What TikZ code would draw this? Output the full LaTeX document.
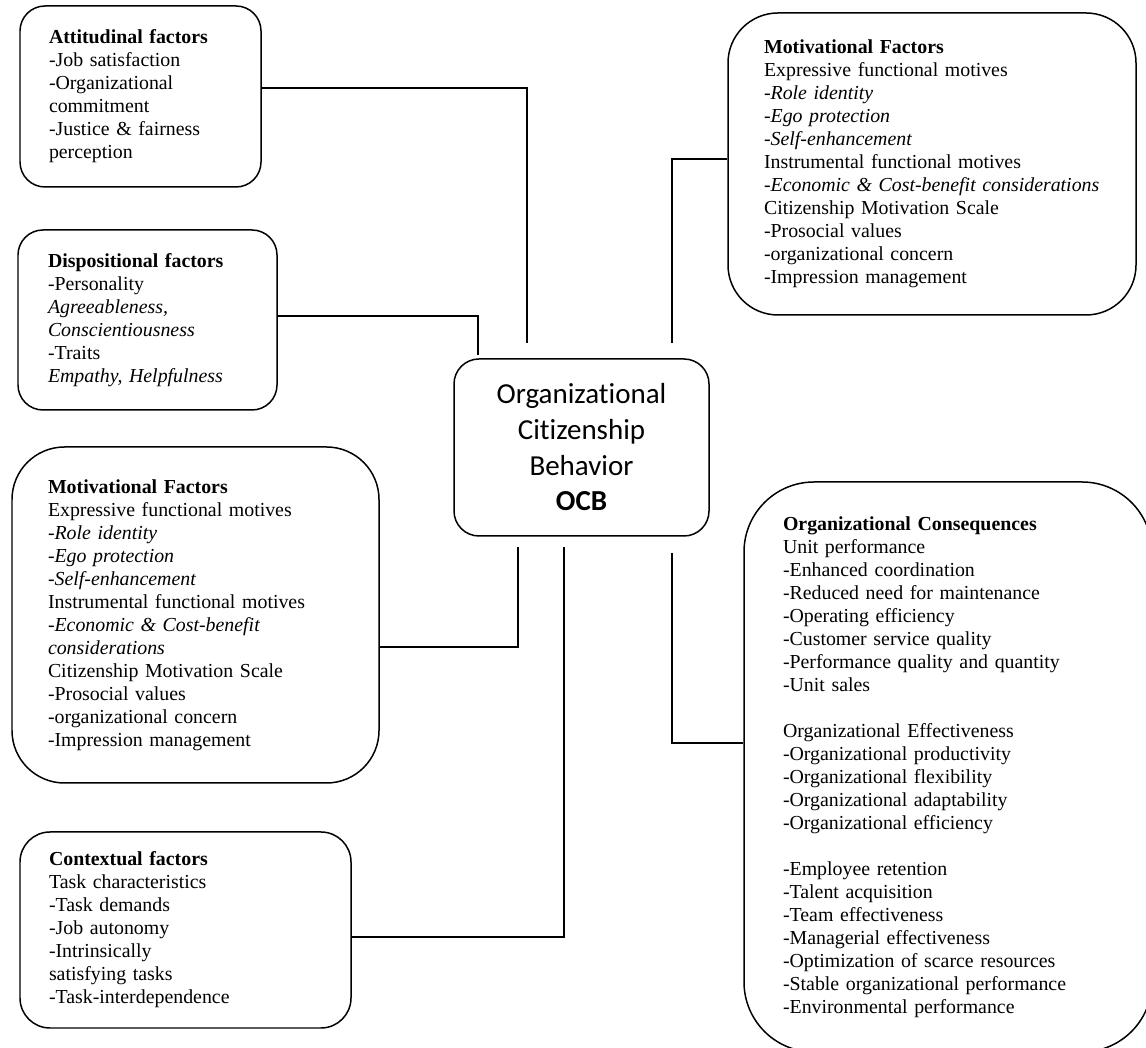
\documentclass[tikz,border=0pt]{standalone}
\usepackage{fontspec}
\setmainfont{Liberation Serif}
\newfontfamily\ocbfont[Ligatures=NoCommon]{Carlito}
\usepackage{tikz}
\usetikzlibrary{positioning,calc}

\begin{document}
\begin{tikzpicture}[
    factorbox/.style={draw,line width=0.85pt,align=left,
      font=\fontsize{11.3}{13.1}\selectfont},
    centrebox/.style={draw,line width=0.85pt,align=center,rounded corners=0.5cm,
      font=\ocbfont\fontsize{16.5}{20.3}\selectfont},
    link/.style={line width=0.85pt}]
    \useasboundingbox (0,0) rectangle (22.92,20.96);
    \clip (0,0) rectangle (22.92,20.96);
    % centre
    \node[centrebox,minimum width=5.10cm,minimum height=3.54cm] (ocb) at (11.63,12.01)
      {Organizational\\Citizenship\\Behavior\\\textbf{OCB}};
    % antecedents
    \node[factorbox,rounded corners=0.5cm,minimum height=3.62cm,text width=3.66cm,inner xsep=0.58cm] (att) at (2.81,19.03)
      {\textbf{Attitudinal factors}\\-Job satisfaction\\-Organizational\\commitment\\-Justice \& fairness\\perception};
    \node[factorbox,rounded corners=0.5cm,minimum height=3.60cm,text width=3.98cm,inner xsep=0.60cm] (disp) at (2.95,14.56)
      {\textbf{Dispositional factors}\\-Personality\\\textit{Agreeableness,}\\\textit{Conscientiousness}\\-Traits\\\textit{Empathy, Helpfulness}};
    \node[factorbox,rounded corners=1.05cm,minimum height=6.72cm,text width=5.90cm,inner xsep=0.72cm] (motivL) at (3.91,8.66)
      {\textbf{Motivational Factors}\\Expressive functional motives\\\textit{-Role identity}\\\textit{-Ego protection}\\\textit{-Self-enhancement}\\Instrumental functional motives\\\textit{-Economic \& Cost-benefit}\\\textit{considerations}\\Citizenship Motivation Scale\\-Prosocial values\\-organizational concern\\-Impression management};
    \node[factorbox,rounded corners=0.6cm,minimum height=3.92cm,text width=5.46cm,inner xsep=0.58cm] (ctx) at (3.71,2.36)
      {\textbf{Contextual factors}\\Task characteristics\\-Task demands\\-Job autonomy\\-Intrinsically\\satisfying tasks\\-Task-interdependence};
    \node[factorbox,rounded corners=1.0cm,minimum height=6.04cm,text width=6.72cm,inner xsep=0.72cm] (motivR) at (18.64,17.68)
      {\textbf{Motivational Factors}\\Expressive functional motives\\\textit{-Role identity}\\\textit{-Ego protection}\\\textit{-Self-enhancement}\\Instrumental functional motives\\\textit{-Economic \& Cost-benefit considerations}\\Citizenship Motivation Scale\\-Prosocial values\\-organizational concern\\-Impression management};
    % consequences
    \node[factorbox,rounded corners=1.4cm,minimum height=11.40cm,text width=6.60cm,inner xsep=0.78cm] (cons) at (18.96,5.62)
      {\textbf{Organizational Consequences}\\Unit performance\\-Enhanced coordination\\-Reduced need for maintenance\\-Operating efficiency\\-Customer service quality\\-Performance quality and quantity\\-Unit sales\\[13.1pt]Organizational Effectiveness\\-Organizational productivity\\-Organizational flexibility\\-Organizational adaptability\\-Organizational efficiency\\[13.1pt]-Employee retention\\-Talent acquisition\\-Team effectiveness\\-Managerial effectiveness\\-Optimization of scarce resources\\-Stable organizational performance\\-Environmental performance};
    % loose ends near the centre box
    \coordinate (attend) at (10.54,14.10);
    \coordinate (dispend) at (9.56,13.86);
    \coordinate (motivRend) at (13.44,14.10);
    \coordinate (motivLend) at (10.36,10.02);
    \coordinate (ctxend) at (11.28,10.02);
    \coordinate (consend) at (13.44,9.90);
    \draw[link] ([yshift=0.17cm]att.east) -| (attend);
    \draw[link] ([yshift=0.08cm]disp.east) -| (dispend);
    \draw[link] (motivRend) |- ([yshift=0.10cm]motivR.west);
    \draw[link] ([yshift=-0.64cm]motivL.east) -| (motivLend);
    \draw[link] ([yshift=-0.14cm]ctx.east) -| (ctxend);
    \draw[link] (consend) |- ([yshift=0.48cm]cons.west);
\end{tikzpicture}
\end{document}
